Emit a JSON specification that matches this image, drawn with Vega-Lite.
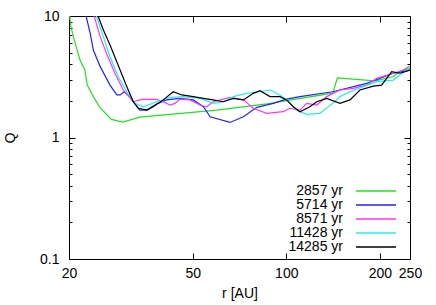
{
  "$schema": "https://vega.github.io/schema/vega-lite/v6.json",
  "width": 341,
  "height": 243,
  "autosize": {"type": "none"},
  "padding": {"left": 69, "top": 16, "right": 26, "bottom": 46},
  "config": {
    "font": "Liberation Sans",
    "view": {"stroke": "black", "strokeWidth": 1},
    "axis": {"grid": false, "domain": false, "tickColor": "black", "labelColor": "black", "titleColor": "black", "labelFontSize": 14, "titleFontSize": 14, "titleFontWeight": "normal", "labelFlush": false, "tickWidth": 1}
  },
  "data": {"values": [
    {"s":"2857 yr","r":20,"Q":11},{"s":"2857 yr","r":20.3,"Q":8.12},{"s":"2857 yr","r":20.65,"Q":6.76},{"s":"2857 yr","r":21.7,"Q":4.34},{"s":"2857 yr","r":22.5,"Q":3.59},{"s":"2857 yr","r":22.9,"Q":2.7},{"s":"2857 yr","r":23.95,"Q":2.17},{"s":"2857 yr","r":25.2,"Q":1.75},{"s":"2857 yr","r":27.4,"Q":1.41},{"s":"2857 yr","r":29.8,"Q":1.34},{"s":"2857 yr","r":33.8,"Q":1.47},{"s":"2857 yr","r":59.7,"Q":1.68},{"s":"2857 yr","r":86.5,"Q":1.89},{"s":"2857 yr","r":141,"Q":2.32},{"s":"2857 yr","r":146,"Q":3.09},{"s":"2857 yr","r":193,"Q":2.93},{"s":"2857 yr","r":220,"Q":3.16},{"s":"2857 yr","r":232,"Q":3.48},{"s":"2857 yr","r":250,"Q":3.88},
    {"s":"5714 yr","r":22.3,"Q":12},{"s":"5714 yr","r":22.7,"Q":10},{"s":"5714 yr","r":23.4,"Q":7.2},{"s":"5714 yr","r":23.95,"Q":5.25},{"s":"5714 yr","r":25.2,"Q":3.83},{"s":"5714 yr","r":27.1,"Q":2.7},{"s":"5714 yr","r":28.5,"Q":2.24},{"s":"5714 yr","r":29.2,"Q":2.24},{"s":"5714 yr","r":30.1,"Q":2.38},{"s":"5714 yr","r":31.0,"Q":2.24},{"s":"5714 yr","r":32.2,"Q":1.97},{"s":"5714 yr","r":33.8,"Q":1.68},{"s":"5714 yr","r":35.6,"Q":1.68},{"s":"5714 yr","r":38.3,"Q":1.89},{"s":"5714 yr","r":41.2,"Q":2.04},{"s":"5714 yr","r":45.5,"Q":2.1},{"s":"5714 yr","r":50.2,"Q":2.04},{"s":"5714 yr","r":54.1,"Q":1.79},{"s":"5714 yr","r":56.9,"Q":1.48},{"s":"5714 yr","r":65.9,"Q":1.33},{"s":"5714 yr","r":72.8,"Q":1.48},{"s":"5714 yr","r":80.4,"Q":1.77},{"s":"5714 yr","r":90.8,"Q":1.91},{"s":"5714 yr","r":100.2,"Q":2.07},{"s":"5714 yr","r":110.7,"Q":2.17},{"s":"5714 yr","r":141,"Q":2.38},{"s":"5714 yr","r":181.4,"Q":2.79},{"s":"5714 yr","r":221,"Q":3.38},{"s":"5714 yr","r":250,"Q":3.59},
    {"s":"8571 yr","r":23.8,"Q":12},{"s":"8571 yr","r":24.1,"Q":10},{"s":"8571 yr","r":25.2,"Q":6.76},{"s":"8571 yr","r":26.4,"Q":4.93},{"s":"8571 yr","r":28.1,"Q":3.38},{"s":"8571 yr","r":29.9,"Q":2.46},{"s":"8571 yr","r":32.2,"Q":1.97},{"s":"8571 yr","r":34.3,"Q":2.06},{"s":"8571 yr","r":36.4,"Q":2.06},{"s":"8571 yr","r":38.3,"Q":2.06},{"s":"8571 yr","r":40.2,"Q":1.97},{"s":"8571 yr","r":42.3,"Q":1.85},{"s":"8571 yr","r":43.9,"Q":1.91},{"s":"8571 yr","r":45.5,"Q":2.07},{"s":"8571 yr","r":49.0,"Q":2.04},{"s":"8571 yr","r":52.8,"Q":1.85},{"s":"8571 yr","r":55.4,"Q":1.79},{"s":"8571 yr","r":58.2,"Q":1.97},{"s":"8571 yr","r":65.9,"Q":2.14},{"s":"8571 yr","r":72.8,"Q":2.04},{"s":"8571 yr","r":78.3,"Q":1.74},{"s":"8571 yr","r":86.5,"Q":1.58},{"s":"8571 yr","r":97.7,"Q":1.63},{"s":"8571 yr","r":102.7,"Q":1.74},{"s":"8571 yr","r":110.7,"Q":1.68},{"s":"8571 yr","r":116.3,"Q":1.91},{"s":"8571 yr","r":125.3,"Q":1.85},{"s":"8571 yr","r":134.9,"Q":2.17},{"s":"8571 yr","r":148.8,"Q":2.46},{"s":"8571 yr","r":164.3,"Q":2.54},{"s":"8571 yr","r":181.4,"Q":2.7},{"s":"8571 yr","r":195.4,"Q":3.07},{"s":"8571 yr","r":221,"Q":3.38},{"s":"8571 yr","r":250,"Q":3.72},
    {"s":"11428 yr","r":24.2,"Q":12},{"s":"11428 yr","r":24.5,"Q":10},{"s":"11428 yr","r":25.8,"Q":6.76},{"s":"11428 yr","r":27.1,"Q":4.62},{"s":"11428 yr","r":28.8,"Q":3.16},{"s":"11428 yr","r":30.7,"Q":2.38},{"s":"11428 yr","r":32.6,"Q":1.91},{"s":"11428 yr","r":34.7,"Q":1.79},{"s":"11428 yr","r":38.3,"Q":1.97},{"s":"11428 yr","r":42.3,"Q":2.14},{"s":"11428 yr","r":46.6,"Q":2.17},{"s":"11428 yr","r":52.8,"Q":2.1},{"s":"11428 yr","r":58.2,"Q":1.91},{"s":"11428 yr","r":62.7,"Q":1.97},{"s":"11428 yr","r":67.6,"Q":2.17},{"s":"11428 yr","r":74.6,"Q":2.31},{"s":"11428 yr","r":82.3,"Q":2.38},{"s":"11428 yr","r":88.6,"Q":2.46},{"s":"11428 yr","r":93.1,"Q":2.31},{"s":"11428 yr","r":100.2,"Q":2.06},{"s":"11428 yr","r":108,"Q":1.68},{"s":"11428 yr","r":116.3,"Q":1.55},{"s":"11428 yr","r":128.3,"Q":1.58},{"s":"11428 yr","r":141,"Q":1.91},{"s":"11428 yr","r":148.8,"Q":2.17},{"s":"11428 yr","r":160.3,"Q":2.38},{"s":"11428 yr","r":177,"Q":2.62},{"s":"11428 yr","r":195.4,"Q":2.88},{"s":"11428 yr","r":221,"Q":2.97},{"s":"11428 yr","r":232,"Q":3.27},{"s":"11428 yr","r":250,"Q":3.72},
    {"s":"14285 yr","r":24.5,"Q":12},{"s":"14285 yr","r":24.8,"Q":10},{"s":"14285 yr","r":25.8,"Q":7.67},{"s":"14285 yr","r":27.1,"Q":5.77},{"s":"14285 yr","r":29.2,"Q":3.59},{"s":"14285 yr","r":30.7,"Q":2.62},{"s":"14285 yr","r":32.2,"Q":1.97},{"s":"14285 yr","r":33.4,"Q":1.74},{"s":"14285 yr","r":35.6,"Q":1.68},{"s":"14285 yr","r":37.3,"Q":1.79},{"s":"14285 yr","r":40.2,"Q":2.04},{"s":"14285 yr","r":43.3,"Q":2.38},{"s":"14285 yr","r":46.1,"Q":2.24},{"s":"14285 yr","r":50.2,"Q":2.17},{"s":"14285 yr","r":54.1,"Q":2.1},{"s":"14285 yr","r":58.2,"Q":2.04},{"s":"14285 yr","r":62.7,"Q":1.97},{"s":"14285 yr","r":67.6,"Q":2.1},{"s":"14285 yr","r":72.8,"Q":2.04},{"s":"14285 yr","r":78.3,"Q":2.31},{"s":"14285 yr","r":82.3,"Q":2.43},{"s":"14285 yr","r":88.6,"Q":2.17},{"s":"14285 yr","r":95.4,"Q":2.17},{"s":"14285 yr","r":100.2,"Q":2.04},{"s":"14285 yr","r":105.3,"Q":1.79},{"s":"14285 yr","r":110.7,"Q":1.63},{"s":"14285 yr","r":119.1,"Q":1.79},{"s":"14285 yr","r":125.3,"Q":1.97},{"s":"14285 yr","r":134.9,"Q":2.1},{"s":"14285 yr","r":148.8,"Q":1.91},{"s":"14285 yr","r":160.3,"Q":2.04},{"s":"14285 yr","r":172.6,"Q":2.46},{"s":"14285 yr","r":190.6,"Q":2.65},{"s":"14285 yr","r":202.6,"Q":2.7},{"s":"14285 yr","r":218.3,"Q":3.48},{"s":"14285 yr","r":232,"Q":3.38},{"s":"14285 yr","r":250,"Q":3.59}
  ]},
  "resolve": {"axis": {"x": "independent", "y": "independent"}},
  "layer": [
    {
      "mark": {"type": "line", "clip": true, "strokeWidth": 1.2},
      "encoding": {
        "x": {"field": "r", "type": "quantitative", "scale": {"type": "log", "domain": [20, 250], "nice": false},
              "axis": {"orient": "bottom", "values": [20, 50, 100, 200, 250], "format": "~g", "tickSize": -6, "labelPadding": 13, "title": "r [AU]", "titlePadding": 6}},
        "y": {"field": "Q", "type": "quantitative", "scale": {"type": "log", "domain": [0.1, 10], "nice": false},
              "axis": {"orient": "left", "values": [0.1, 1, 10], "format": "~g", "tickSize": -6, "labelPadding": 16, "title": "Q", "titlePadding": 22}},
        "color": {"field": "s", "type": "nominal",
                  "scale": {"domain": ["2857 yr", "5714 yr", "8571 yr", "11428 yr", "14285 yr"], "range": ["#22e022", "#2222ff", "#ff33ff", "#22eeee", "#000000"]},
                  "legend": {"title": null, "orient": "none", "legendX": 300, "legendY": 168, "symbolType": "M-10,0H10", "symbolSize": 16, "symbolStrokeWidth": 1.5, "labelAlign": "right", "labelOffset": -40, "labelFontSize": 14, "labelColor": "black", "rowPadding": 0, "padding": 0}},
        "detail": {"field": "s"}
      }
    },
    {
      "mark": {"type": "point", "opacity": 0},
      "encoding": {
        "x": {"field": "r", "type": "quantitative", "axis": {"orient": "top", "values": [50, 100, 200], "labels": false, "tickSize": -6, "title": null}},
        "y": {"field": "Q", "type": "quantitative", "axis": {"orient": "left", "values": [0.2, 0.3, 0.4, 0.5, 0.6, 0.7, 0.8, 0.9, 2, 3, 4, 5, 6, 7, 8, 9], "labels": false, "tickSize": -3, "title": null}}
      }
    },
    {
      "mark": {"type": "point", "opacity": 0},
      "encoding": {
        "x": {"field": "r", "type": "quantitative", "axis": null},
        "y": {"field": "Q", "type": "quantitative", "axis": {"orient": "right", "values": [0.1, 1, 10], "labels": false, "tickSize": -6, "title": null}}
      }
    },
    {
      "mark": {"type": "point", "opacity": 0},
      "encoding": {
        "x": {"field": "r", "type": "quantitative", "axis": null},
        "y": {"field": "Q", "type": "quantitative", "axis": {"orient": "right", "values": [0.2, 0.3, 0.4, 0.5, 0.6, 0.7, 0.8, 0.9, 2, 3, 4, 5, 6, 7, 8, 9], "labels": false, "tickSize": -3, "title": null}}
      }
    }
  ]
}
